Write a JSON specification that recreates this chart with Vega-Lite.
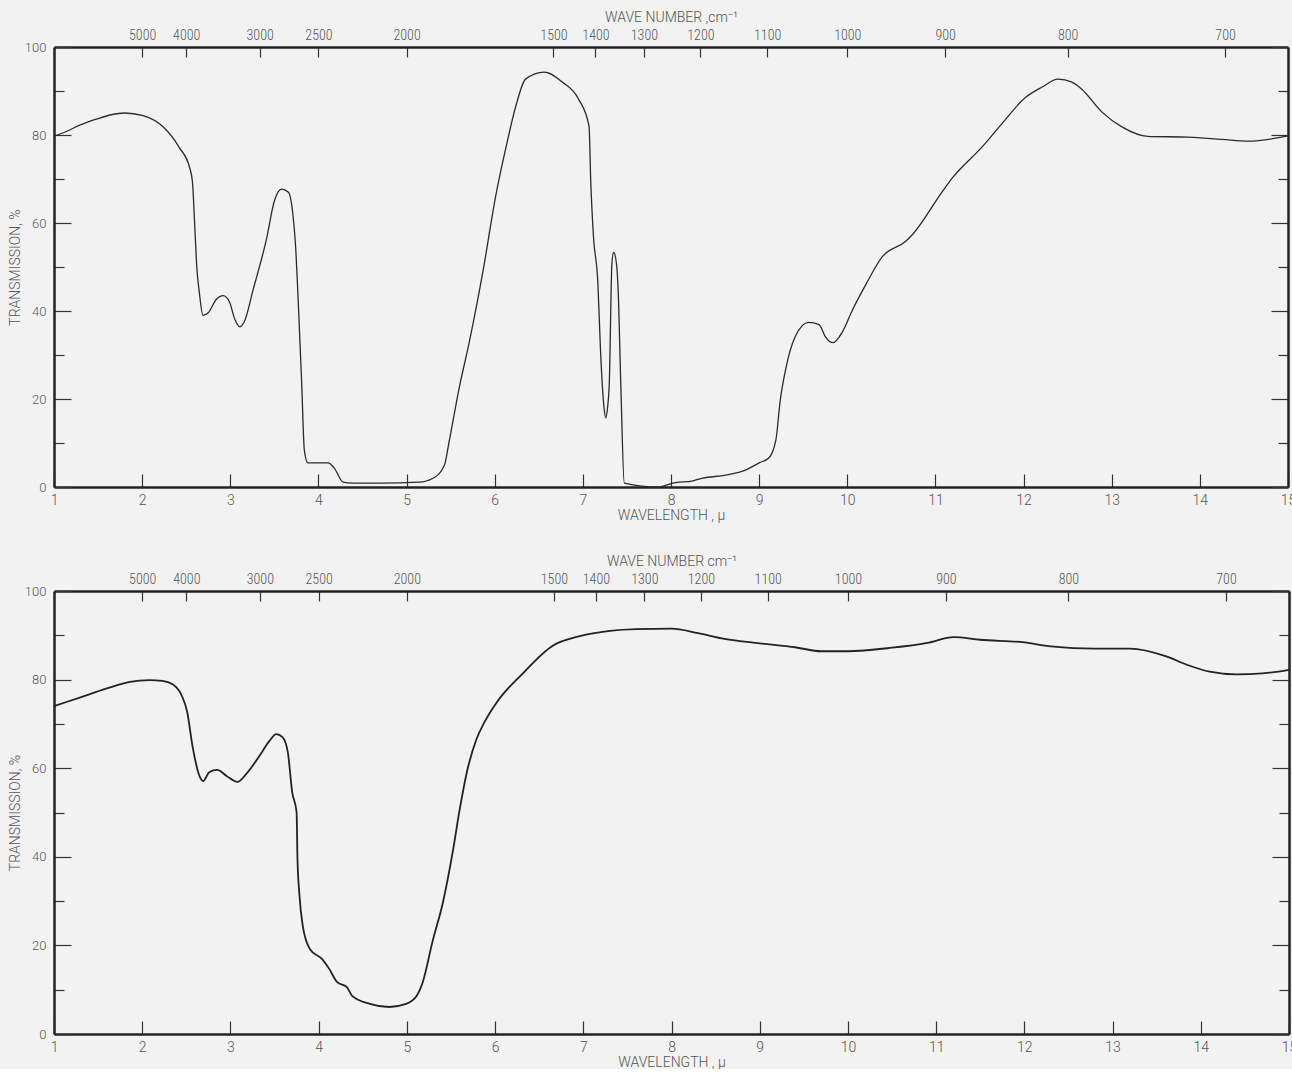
{
  "$schema": "https://vega.github.io/schema/vega-lite/v6.json",
  "background": "#f2f2f2",
  "padding": {"left": 8, "top": 10, "right": 0, "bottom": 0},
  "spacing": 32,
  "config": {
    "view": {"stroke": null},
    "font": "Roboto",
    "axis": {
      "grid": false,
      "domainColor": "#222222",
      "domainWidth": 2.5,
      "tickColor": "#333333",
      "tickWidth": 1.2,
      "labelColor": "#555555",
      "titleColor": "#555555",
      "labelFont": "Roboto",
      "labelFontWeight": 300,
      "labelFontSize": 13,
      "titleFont": "Roboto",
      "titleFontWeight": 300,
      "titleFontSize": 14
    }
  },
  "datasets": {
    "top": [
      {"wl": 1.0, "t": 79.7}, {"wl": 1.14, "t": 80.8}, {"wl": 1.3, "t": 82.3}, {"wl": 1.48, "t": 83.6},
      {"wl": 1.65, "t": 84.6}, {"wl": 1.8, "t": 85.0}, {"wl": 2.01, "t": 84.4}, {"wl": 2.24, "t": 81.8},
      {"wl": 2.42, "t": 77.2}, {"wl": 2.54, "t": 72.5}, {"wl": 2.57, "t": 69.5}, {"wl": 2.6, "t": 58},
      {"wl": 2.62, "t": 50}, {"wl": 2.65, "t": 44}, {"wl": 2.69, "t": 39}, {"wl": 2.75, "t": 39.6},
      {"wl": 2.84, "t": 42.6}, {"wl": 2.92, "t": 43.5}, {"wl": 2.99, "t": 42.1}, {"wl": 3.05, "t": 38.2},
      {"wl": 3.11, "t": 36.4}, {"wl": 3.16, "t": 37.6}, {"wl": 3.26, "t": 44.9}, {"wl": 3.41, "t": 56.3},
      {"wl": 3.5, "t": 65}, {"wl": 3.58, "t": 67.7}, {"wl": 3.66, "t": 67}, {"wl": 3.71, "t": 62},
      {"wl": 3.74, "t": 55}, {"wl": 3.77, "t": 42.6}, {"wl": 3.81, "t": 23.7}, {"wl": 3.84, "t": 8.4},
      {"wl": 3.88, "t": 5.5}, {"wl": 4.11, "t": 5.5}, {"wl": 4.18, "t": 4.3}, {"wl": 4.28, "t": 1.1},
      {"wl": 4.39, "t": 0.9}, {"wl": 4.7, "t": 0.9}, {"wl": 5.14, "t": 1.1}, {"wl": 5.3, "t": 2.0},
      {"wl": 5.43, "t": 5.0}, {"wl": 5.48, "t": 10}, {"wl": 5.6, "t": 22.8}, {"wl": 5.71, "t": 32.8},
      {"wl": 5.87, "t": 49.4}, {"wl": 6.01, "t": 66}, {"wl": 6.13, "t": 77.4}, {"wl": 6.24, "t": 86.6},
      {"wl": 6.35, "t": 92.7}, {"wl": 6.56, "t": 94.3}, {"wl": 6.77, "t": 92}, {"wl": 6.95, "t": 88.2},
      {"wl": 7.07, "t": 82}, {"wl": 7.09, "t": 69.2}, {"wl": 7.12, "t": 57}, {"wl": 7.17, "t": 46.5},
      {"wl": 7.2, "t": 31.2}, {"wl": 7.24, "t": 18}, {"wl": 7.26, "t": 15.7}, {"wl": 7.28, "t": 18},
      {"wl": 7.3, "t": 23.7}, {"wl": 7.33, "t": 51}, {"wl": 7.35, "t": 53.3}, {"wl": 7.38, "t": 51},
      {"wl": 7.4, "t": 45}, {"wl": 7.43, "t": 23.7}, {"wl": 7.47, "t": 0.9}, {"wl": 7.86, "t": 0},
      {"wl": 8.02, "t": 0.9}, {"wl": 8.25, "t": 1.4}, {"wl": 8.36, "t": 2.0}, {"wl": 8.62, "t": 2.7},
      {"wl": 8.85, "t": 3.9}, {"wl": 9.0, "t": 5.5}, {"wl": 9.11, "t": 6.6}, {"wl": 9.19, "t": 10.7},
      {"wl": 9.24, "t": 19.8}, {"wl": 9.3, "t": 26.7}, {"wl": 9.41, "t": 34.2}, {"wl": 9.56, "t": 37.4},
      {"wl": 9.68, "t": 36.9}, {"wl": 9.75, "t": 34.2}, {"wl": 9.84, "t": 32.8}, {"wl": 9.94, "t": 35.1},
      {"wl": 10.06, "t": 40.3}, {"wl": 10.21, "t": 46}, {"wl": 10.4, "t": 52.4}, {"wl": 10.66, "t": 55.8},
      {"wl": 10.74, "t": 57.4}, {"wl": 11.08, "t": 67.2}, {"wl": 11.19, "t": 70.2}, {"wl": 11.53, "t": 77.3},
      {"wl": 11.76, "t": 82.7}, {"wl": 12.02, "t": 88.5}, {"wl": 12.21, "t": 90.9}, {"wl": 12.39, "t": 92.7},
      {"wl": 12.55, "t": 92}, {"wl": 12.66, "t": 90.4}, {"wl": 12.89, "t": 85.2}, {"wl": 13.12, "t": 81.8},
      {"wl": 13.41, "t": 79.7}, {"wl": 13.87, "t": 79.5}, {"wl": 14.25, "t": 79}, {"wl": 14.55, "t": 78.6},
      {"wl": 15.0, "t": 79.8}
    ],
    "bottom": [
      {"wl": 1.0, "t": 74}, {"wl": 1.3, "t": 76}, {"wl": 1.6, "t": 78}, {"wl": 1.86, "t": 79.5},
      {"wl": 2.08, "t": 79.9}, {"wl": 2.23, "t": 79.7}, {"wl": 2.34, "t": 79}, {"wl": 2.45, "t": 76.3},
      {"wl": 2.51, "t": 72.7}, {"wl": 2.57, "t": 65}, {"wl": 2.65, "t": 58.2}, {"wl": 2.69, "t": 57.1},
      {"wl": 2.76, "t": 59.1}, {"wl": 2.85, "t": 59.6}, {"wl": 2.96, "t": 58.2}, {"wl": 3.08, "t": 56.9},
      {"wl": 3.18, "t": 58.7}, {"wl": 3.33, "t": 62.8}, {"wl": 3.44, "t": 66.1}, {"wl": 3.52, "t": 67.7},
      {"wl": 3.59, "t": 67}, {"wl": 3.65, "t": 63.7}, {"wl": 3.7, "t": 54.6}, {"wl": 3.75, "t": 50.1},
      {"wl": 3.76, "t": 39.5}, {"wl": 3.78, "t": 32}, {"wl": 3.82, "t": 24.4}, {"wl": 3.9, "t": 19.2},
      {"wl": 4.04, "t": 16.9}, {"wl": 4.12, "t": 14.7}, {"wl": 4.21, "t": 11.7}, {"wl": 4.32, "t": 10.6},
      {"wl": 4.38, "t": 8.6}, {"wl": 4.58, "t": 6.8}, {"wl": 4.8, "t": 6.1}, {"wl": 4.99, "t": 6.8},
      {"wl": 5.11, "t": 8.6}, {"wl": 5.18, "t": 11.7}, {"wl": 5.29, "t": 20.8}, {"wl": 5.41, "t": 29.8},
      {"wl": 5.52, "t": 41.1}, {"wl": 5.6, "t": 50.8}, {"wl": 5.68, "t": 59.1}, {"wl": 5.79, "t": 66.6},
      {"wl": 5.88, "t": 70.4}, {"wl": 6.02, "t": 74.9}, {"wl": 6.31, "t": 81.3}, {"wl": 6.65, "t": 87.6},
      {"wl": 6.96, "t": 89.8}, {"wl": 7.3, "t": 91}, {"wl": 7.6, "t": 91.4}, {"wl": 8.0, "t": 91.5},
      {"wl": 8.3, "t": 90.5}, {"wl": 8.6, "t": 89.2}, {"wl": 9.0, "t": 88.2}, {"wl": 9.4, "t": 87.3},
      {"wl": 9.7, "t": 86.4}, {"wl": 10.0, "t": 86.4}, {"wl": 10.5, "t": 87.2}, {"wl": 10.9, "t": 88.3},
      {"wl": 11.2, "t": 89.6}, {"wl": 11.5, "t": 89}, {"wl": 12.0, "t": 88.4}, {"wl": 12.3, "t": 87.5},
      {"wl": 12.8, "t": 87}, {"wl": 13.2, "t": 87}, {"wl": 13.6, "t": 85.3}, {"wl": 13.85, "t": 83.3},
      {"wl": 14.1, "t": 81.8}, {"wl": 14.4, "t": 81.2}, {"wl": 14.7, "t": 81.4}, {"wl": 15.0, "t": 82.2}
    ]
  },
  "vconcat": [
    {
      "width": 1234,
      "height": 440,
      "data": {"name": "top"},
      "layer": [
        {
          "mark": {"type": "line", "color": "#2a2a2a", "strokeWidth": 1.3, "interpolate": "monotone"},
          "encoding": {
            "x": {"field": "wl", "type": "quantitative", "scale": {"domain": [1, 15], "nice": false, "zero": false},
              "axis": {"orient": "bottom", "values": [1,2,3,4,5,6,7,8,9,10,11,12,13,14,15], "format": "d", "tickSize": -13, "labelPadding": 19, "labelFontSize": 14, "labelFlush": false, "title": "WAVELENGTH , μ", "titlePadding": 1}},
            "y": {"field": "t", "type": "quantitative", "scale": {"domain": [0, 100], "nice": false, "zero": false},
              "axis": {"orient": "left", "values": [0,10,20,30,40,50,60,70,80,90,100],
                "tickSize": {"condition": {"test": "datum.value % 20 === 0", "value": -17}, "value": -10},
                "labelExpr": "datum.value % 20 === 0 ? datum.label : ''", "labelPadding": 25, "title": "TRANSMISSION, %", "titlePadding": 2}}
          }
        },
        {
          "mark": {"type": "line", "opacity": 0},
          "encoding": {
            "x": {"field": "wl", "type": "quantitative", "scale": {"domain": [1, 15], "nice": false, "zero": false},
              "axis": {"orient": "top", "values": [2, 2.5, 3.33333, 4, 5, 6.66667, 7.14286, 7.69231, 8.33333, 9.09091, 10, 11.1111, 12.5, 14.2857],
                "labelExpr": "format(round(10000 / datum.value), 'd')", "tickSize": -10, "labelPadding": 15, "labelFlush": false,
                "labelFont": "Liberation Sans Narrow, Roboto Condensed, Roboto", "labelFontWeight": 300, "labelFontSize": 14,
                "title": "WAVE NUMBER ,cm⁻¹", "titlePadding": 4}},
            "y": {"field": "t", "type": "quantitative", "scale": {"domain": [0, 100], "nice": false, "zero": false},
              "axis": {"orient": "right", "values": [0,10,20,30,40,50,60,70,80,90,100], "labels": false, "title": null,
                "tickSize": {"condition": {"test": "datum.value % 20 === 0", "value": -17}, "value": -10}}}
          }
        }
      ],
      "resolve": {"axis": {"x": "independent", "y": "independent"}}
    },
    {
      "width": 1235,
      "height": 443,
      "data": {"name": "bottom"},
      "layer": [
        {
          "mark": {"type": "line", "color": "#222222", "strokeWidth": 1.8, "interpolate": "monotone"},
          "encoding": {
            "x": {"field": "wl", "type": "quantitative", "scale": {"domain": [1, 15], "nice": false, "zero": false},
              "axis": {"orient": "bottom", "values": [1,2,3,4,5,6,7,8,9,10,11,12,13,14,15], "format": "d", "tickSize": -13, "labelPadding": 19, "labelFontSize": 14, "labelFlush": false, "title": "WAVELENGTH , μ", "titlePadding": 1}},
            "y": {"field": "t", "type": "quantitative", "scale": {"domain": [0, 100], "nice": false, "zero": false},
              "axis": {"orient": "left", "values": [0,10,20,30,40,50,60,70,80,90,100],
                "tickSize": {"condition": {"test": "datum.value % 20 === 0", "value": -17}, "value": -10},
                "labelExpr": "datum.value % 20 === 0 ? datum.label : ''", "labelPadding": 25, "title": "TRANSMISSION, %", "titlePadding": 2}}
          }
        },
        {
          "mark": {"type": "line", "opacity": 0},
          "encoding": {
            "x": {"field": "wl", "type": "quantitative", "scale": {"domain": [1, 15], "nice": false, "zero": false},
              "axis": {"orient": "top", "values": [2, 2.5, 3.33333, 4, 5, 6.66667, 7.14286, 7.69231, 8.33333, 9.09091, 10, 11.1111, 12.5, 14.2857],
                "labelExpr": "format(round(10000 / datum.value), 'd')", "tickSize": -10, "labelPadding": 15, "labelFlush": false,
                "labelFont": "Liberation Sans Narrow, Roboto Condensed, Roboto", "labelFontWeight": 300, "labelFontSize": 14,
                "title": "WAVE NUMBER  cm⁻¹", "titlePadding": 4}},
            "y": {"field": "t", "type": "quantitative", "scale": {"domain": [0, 100], "nice": false, "zero": false},
              "axis": {"orient": "right", "values": [0,10,20,30,40,50,60,70,80,90,100], "labels": false, "title": null,
                "tickSize": {"condition": {"test": "datum.value % 20 === 0", "value": -17}, "value": -10}}}
          }
        }
      ],
      "resolve": {"axis": {"x": "independent", "y": "independent"}}
    }
  ]
}
